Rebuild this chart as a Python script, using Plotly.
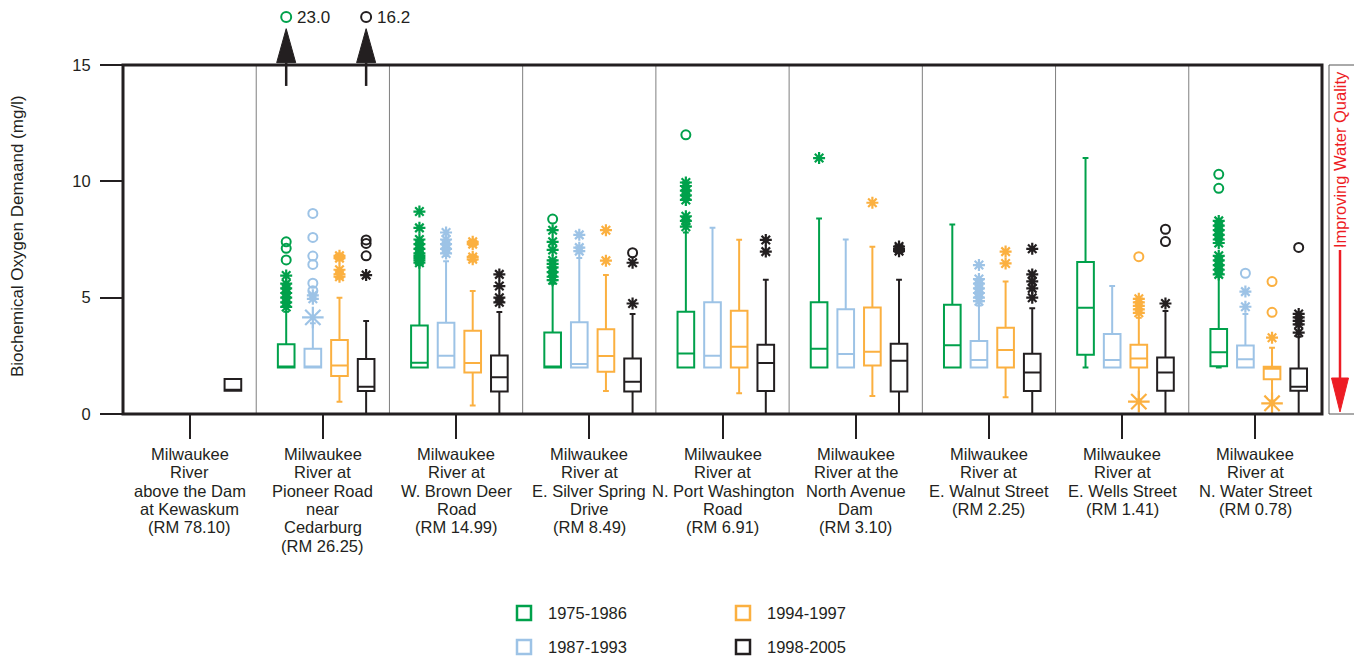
import plotly.graph_objects as go

# ---------------- data ----------------
stations = [
    ["Milwaukee", "River", "above the Dam", "at Kewaskum", "(RM 78.10)"],
    ["Milwaukee", "River at", "Pioneer Road", "near", "Cedarburg", "(RM 26.25)"],
    ["Milwaukee", "River at", "W. Brown Deer", "Road", "(RM 14.99)"],
    ["Milwaukee", "River at", "E. Silver Spring", "Drive", "(RM 8.49)"],
    ["Milwaukee", "River at", "N. Port Washington", "Road", "(RM 6.91)"],
    ["Milwaukee", "River at the", "North Avenue", "Dam", "(RM 3.10)"],
    ["Milwaukee", "River at", "E. Walnut Street", "(RM 2.25)"],
    ["Milwaukee", "River at", "E. Wells Street", "(RM 1.41)"],
    ["Milwaukee", "River at", "N. Water Street", "(RM 0.78)"],
]
periods = ["1975-1986", "1987-1993", "1994-1997", "1998-2005"]
colors = ["#00A14B", "#9DC3E6", "#FBB040", "#231F20"]
offsets = [-0.275, -0.075, 0.125, 0.325]

# box statistics, one row per period, one column per station (None = no data)
q1 = [
    [None, 2.0, 2.0, 2.0, 2.0, 2.0, 2.0, 2.55, 2.05],
    [None, 2.0, 2.0, 2.0, 2.0, 2.0, 2.0, 2.0, 2.0],
    [None, 1.63, 1.78, 1.82, 2.0, 2.08, 2.0, 2.0, 1.49],
    [1.0, 0.99, 0.97, 0.97, 0.99, 0.97, 0.99, 1.0, 1.0],
]
median = [
    [None, 2.0, 2.2, 2.0, 2.6, 2.8, 2.95, 4.57, 2.65],
    [None, 2.0, 2.5, 2.15, 2.5, 2.58, 2.32, 2.32, 2.35],
    [None, 2.08, 2.19, 2.49, 2.89, 2.68, 2.75, 2.39, 1.95],
    [1.0, 1.17, 1.58, 1.39, 2.19, 2.29, 1.78, 1.78, 1.17],
]
q3 = [
    [None, 3.0, 3.8, 3.5, 4.4, 4.8, 4.7, 6.53, 3.65],
    [None, 2.8, 3.92, 3.94, 4.8, 4.5, 3.14, 3.44, 2.94],
    [None, 3.18, 3.58, 3.64, 4.44, 4.58, 3.71, 2.98, 2.03],
    [1.5, 2.36, 2.51, 2.39, 2.98, 3.02, 2.59, 2.43, 1.96],
]
lowerfence = [
    [None, 2.0, 2.0, 2.0, 2.0, 2.0, 2.0, 2.0, 2.0],
    [None, 2.0, 2.0, 2.0, 2.0, 2.0, 2.0, 2.0, 2.0],
    [None, 0.53, 0.37, 0.99, 0.89, 0.77, 0.72, 0.62, 0.58],
    [1.0, 0.0, 0.0, 0.0, 0.0, 0.0, 0.0, 0.0, 0.0],
]
upperfence = [
    [None, 4.4, 6.4, 5.6, 7.8, 8.4, 8.15, 11.0, 5.9],
    [None, 3.9, 6.57, 6.7, 8.0, 7.5, 4.66, 5.5, 4.3],
    [None, 5.0, 5.29, 5.97, 7.49, 7.19, 5.69, 4.14, 2.85],
    [1.5, 4.0, 4.38, 4.3, 5.77, 5.77, 4.54, 4.43, 3.32],
]

# outliers: {station number: [values]}
stars_1975 = {2: [4.6, 4.8, 5.0, 5.2, 5.4, 5.6, 5.95],
              3: [8.7, 8.0, 7.5, 7.3, 7.1, 6.9, 6.8, 6.7, 6.6, 6.5],
              4: [7.9, 7.4, 7.05, 6.6, 6.45, 6.3, 6.1, 5.9, 5.75],
              5: [9.95, 9.8, 9.6, 9.4, 9.2, 8.5, 8.3, 8.05],
              6: [11.0],
              9: [8.3, 8.1, 7.9, 7.7, 7.5, 7.35, 6.8, 6.6, 6.4, 6.2, 6.0]}
stars_1987 = {2: [5.1, 4.95],
              3: [7.8, 7.5, 7.3, 7.1, 6.9],
              4: [7.7, 7.15, 7.0],
              7: [6.4, 5.8, 5.6, 5.4, 5.2, 5.0, 4.85],
              9: [5.26, 4.61]}
stars_1994 = {2: [6.8, 6.7, 6.2, 6.0, 5.9],
              3: [7.4, 7.3, 6.75, 6.65],
              4: [7.9, 6.59],
              6: [9.08],
              7: [6.98, 6.47],
              8: [4.95, 4.8, 4.65, 4.5, 4.35],
              9: [3.28]}
stars_1998 = {2: [5.97],
              3: [6.0, 5.5, 5.0, 4.8],
              4: [6.5, 4.75],
              5: [7.48, 6.98],
              6: [7.2, 7.1, 7.0],
              7: [7.1, 6.0, 5.7, 5.4, 5.0],
              8: [4.75],
              9: [4.3, 4.15, 4.0, 3.85, 3.5]}
circles_1975 = {2: [7.4, 7.12, 6.62], 4: [8.38], 5: [12.0], 9: [10.3, 9.7]}
circles_1987 = {2: [8.62, 7.59, 6.79, 6.43, 5.62, 5.3], 9: [6.05]}
circles_1994 = {8: [6.76], 9: [5.69, 4.37]}
circles_1998 = {2: [7.48, 7.33, 6.8], 4: [6.93], 8: [7.94, 7.41], 9: [7.16]}
bigstars_1987 = {2: [4.15]}
bigstars_1994 = {8: [0.53], 9: [0.46]}

stars = [stars_1975, stars_1987, stars_1994, stars_1998]
circles = [circles_1975, circles_1987, circles_1994, circles_1998]
bigstars = [{}, bigstars_1987, bigstars_1994, {}]

# values off the scale (station, period index, value)
offscale_station = [2, 2]
offscale_period = [0, 3]
offscale_value = [23.0, 16.2]

# ---------------- figure ----------------
FONT = "Liberation Sans, Arial, Helvetica, sans-serif"
TXT = "#231F20"
XR = [0.5, 9.5]
YR = [0, 15]
L, R, T, B = 123, 32, 65, 244
W, H = 1354, 658
PW, PH = W - L - R, H - T - B

def xp(x):  # data x -> paper
    return (x - XR[0]) / (XR[1] - XR[0])

def yp(y):  # data y -> paper
    return (y - YR[0]) / (YR[1] - YR[0])

def pxp(px):  # page pixel x -> paper
    return (px - L) / PW

def pyp(py):  # page pixel y -> paper
    return (H - B - py) / PH

fig = go.Figure()

for p in range(4):
    xs, a, b, c, lo, hi = [], [], [], [], [], []
    for s in range(9):
        if q1[p][s] is None:
            continue
        xs.append(s + 1 + offsets[p])
        a.append(q1[p][s]); b.append(median[p][s]); c.append(q3[p][s])
        lo.append(lowerfence[p][s]); hi.append(upperfence[p][s])
    fig.add_trace(go.Box(x=xs, q1=a, median=b, q3=c, lowerfence=lo, upperfence=hi,
                         width=0.125, whiskerwidth=0.35, boxpoints=False,
                         line=dict(color=colors[p], width=2),
                         fillcolor="rgba(255,255,255,0)", name=periods[p],
                         showlegend=False, hoverinfo="skip"))

def add_points(dct, p, symbol, size, lw):
    xs, ys = [], []
    for s, vals in dct.items():
        for v in vals:
            xs.append(s + offsets[p]); ys.append(v)
    if xs:
        fig.add_trace(go.Scatter(x=xs, y=ys, mode="markers", showlegend=False,
                                 hoverinfo="skip",
                                 marker=dict(symbol=symbol, size=size, color=colors[p],
                                             line=dict(width=lw, color=colors[p]))))

for p in range(4):
    add_points(stars[p], p, "asterisk-open", 10, 2.2)
    add_points(circles[p], p, "circle-open", 9, 2)
    add_points(bigstars[p], p, "asterisk-open", 18, 2.2)

# off-scale markers drawn above the plot with arrows
OFF_PY = 17      # pixel row of the off-scale markers
for s, p, v in zip(offscale_station, offscale_period, offscale_value):
    xa = xp(s + offsets[p])
    fig.add_shape(type="circle", xref="paper", yref="paper", xsizemode="pixel",
                  ysizemode="pixel", xanchor=xa, yanchor=pyp(OFF_PY),
                  x0=-5, x1=5, y0=-5, y1=5, line=dict(color=colors[p], width=2))
    fig.add_annotation(xref="paper", yref="paper", x=xa, y=pyp(OFF_PY), text=f"{v:.1f}",
                       showarrow=False, xanchor="left", yanchor="middle", xshift=9,
                       font=dict(size=17, color=TXT, family=FONT))
    fig.add_shape(type="line", xref="paper", yref="paper", x0=xa, x1=xa,
                  y0=yp(14.1), y1=yp(15.1), line=dict(color=TXT, width=2.5), layer="above")
    fig.add_shape(type="path", xref="paper", yref="paper", xsizemode="pixel",
                  ysizemode="pixel", xanchor=xa, yanchor=yp(15.1),
                  path="M -9.5,0 L 9.5,0 L 0,34 Z",
                  fillcolor=TXT, line=dict(color=TXT, width=1), layer="above")

# station dividers
for k in range(1, 9):
    fig.add_shape(type="line", x0=k + 0.5, x1=k + 0.5, y0=YR[0], y1=YR[1],
                  line=dict(color="#7F7F7F", width=1), layer="below")

# frame
fig.add_shape(type="rect", xref="paper", yref="paper", x0=0, x1=1, y0=0, y1=1,
              line=dict(color=TXT, width=3), layer="above")

# right bracket
RX, RX2 = pxp(1329), pxp(1354)
fig.add_shape(type="line", xref="paper", yref="paper", x0=RX, x1=RX, y0=0, y1=1,
              line=dict(color="#555555", width=1))
for yy in (0, 1):
    fig.add_shape(type="line", xref="paper", yref="paper", x0=RX, x1=RX2, y0=yy, y1=yy,
                  line=dict(color="#555555", width=1))

# improving water quality arrow
RED = "#ED1C24"
AX = pxp(1340)
fig.add_shape(type="line", xref="paper", yref="paper", x0=AX, x1=AX,
              y0=pyp(250), y1=pyp(380), line=dict(color=RED, width=2.5))
fig.add_shape(type="path", xref="paper", yref="paper", xsizemode="pixel", ysizemode="pixel",
              xanchor=AX, yanchor=pyp(378), path="M -8.5,0 L 8.5,0 L 0,-34 Z",
              fillcolor=RED, line=dict(color=RED, width=1))
fig.add_annotation(xref="paper", yref="paper", x=AX, y=pyp(160), xanchor="center",
                   yanchor="middle", text="Improving Water Quality", textangle=-90,
                   showarrow=False, font=dict(size=16.5, color=RED, family=FONT))

# y axis title
fig.add_annotation(xref="paper", yref="paper", x=pxp(17), y=pyp(236), xanchor="center",
                   yanchor="middle", text="Biochemical Oxygen Demaand (mg/l)", textangle=-90,
                   showarrow=False, font=dict(size=17, color=TXT, family=FONT))

# station labels
for i, lines in enumerate(stations):
    for k, line in enumerate(lines):
        fig.add_annotation(x=i + 1, xref="x", yref="paper", y=0, yanchor="middle",
                           xanchor="center", yshift=-(40 + 18.3 * k), text=line,
                           showarrow=False, font=dict(size=16.5, color=TXT, family=FONT))

# custom legend
leg_x = [pxp(524), pxp(524), pxp(743), pxp(743)]
leg_y = [pyp(613), pyp(647), pyp(613), pyp(647)]
for p in range(4):
    fig.add_shape(type="rect", xref="paper", yref="paper", xsizemode="pixel",
                  ysizemode="pixel", xanchor=leg_x[p], yanchor=leg_y[p],
                  x0=-7, x1=7, y0=-7, y1=7, line=dict(color=colors[p], width=2.5))
    fig.add_annotation(xref="paper", yref="paper", x=leg_x[p], y=leg_y[p], xanchor="left",
                       yanchor="middle", xshift=22, text=periods[p], showarrow=False,
                       font=dict(size=16.5, color=TXT, family=FONT))

fig.update_layout(
    width=W, height=H,
    margin=dict(l=L, r=R, t=T, b=B),
    plot_bgcolor="white", paper_bgcolor="white",
    font=dict(family=FONT, size=16.5, color=TXT),
    showlegend=False,
    xaxis=dict(range=XR, tickvals=list(range(1, 10)), showticklabels=False,
               ticks="outside", ticklen=24, tickwidth=2, tickcolor=TXT,
               showgrid=False, zeroline=False, showline=False),
    yaxis=dict(range=YR, tickvals=[0, 5, 10, 15], ticks="outside", ticklen=22,
               tickwidth=2, tickcolor=TXT, showgrid=False, zeroline=False,
               showline=False, ticklabelstandoff=6,
               tickfont=dict(size=16.5, color=TXT, family=FONT)),
)

fig.write_html("out.html")
